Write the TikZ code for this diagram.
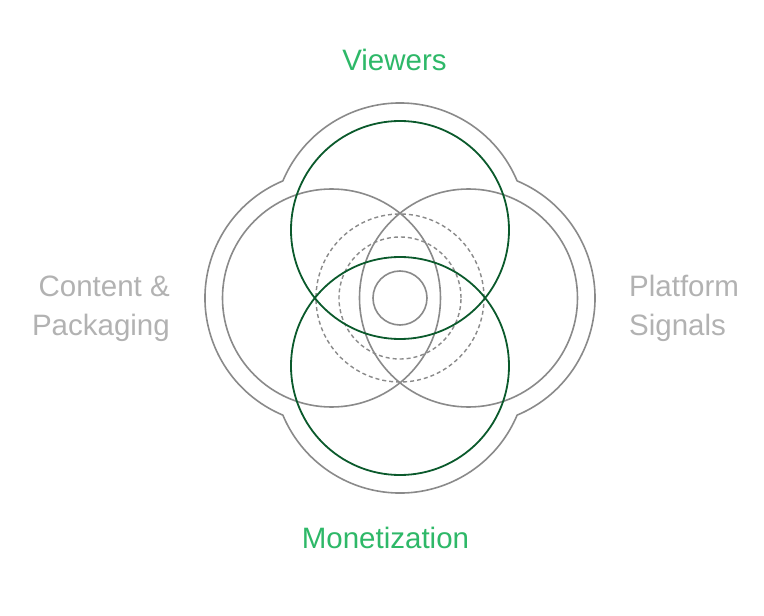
\documentclass[tikz,border=0pt]{standalone}
\usepackage{fontspec}
\setmainfont{Liberation Sans}
\usetikzlibrary{positioning}

\definecolor{ringgray}{HTML}{8A8A8A}
\definecolor{leafgreen}{HTML}{0B5A2C}
\definecolor{textgreen}{HTML}{2EB868}
\definecolor{textgray}{HTML}{B2B2B2}

\begin{document}
\begin{tikzpicture}[
    x=1pt, y=1pt,
    every node/.style={font=\fontsize{29.5}{38.5}\selectfont, inner sep=0pt},
    ring/.style={draw=ringgray, line width=1.6pt},
    keyring/.style={draw=leafgreen, line width=1.8pt},
    guide/.style={draw=ringgray, line width=1.4pt, dash pattern=on 4pt off 3pt},
    hull/.style={draw=ringgray, line width=1.6pt},
    tag/.style={text=textgreen},
    sidetag/.style={text=textgray}
]
\useasboundingbox (-400,-318) rectangle (364,298);

% ============ CENTRES ============
\coordinate (hub) at (0,0);
\coordinate (top) at (0,68);
\coordinate (bottom) at (0,-68);
\coordinate (left) at (-68.5,0);
\coordinate (right) at (68.5,0);

% ============ OUTER HULL ============
\draw[hull] ([shift={(22.75:127)}]top)
    arc[start angle=22.75, delta angle=134.5, radius=127pt]
    arc[start angle=112.75, delta angle=134.5, radius=127pt]
    arc[start angle=202.75, delta angle=134.5, radius=127pt]
    arc[start angle=292.75, delta angle=134.5, radius=127pt] -- cycle;

% ============ SIDE RINGS ============
\draw[ring] (left) circle[radius=109pt];
\draw[ring] (right) circle[radius=109pt];

% Dashed guides and hub
\draw[guide] (hub) circle[radius=84pt];
\draw[guide] (hub) circle[radius=61pt];
\draw[ring] (hub) circle[radius=27pt];

% ============ KEY RINGS ============
\draw[keyring] (top) circle[radius=109pt];
\draw[keyring] (bottom) circle[radius=109pt];

% ============ LABELS ============
\node[tag, anchor=base] (viewers) at (-5.5,227) {Viewers};
\node[tag, anchor=base] (monetization) at (-14.5,-250) {Monetization};
\node[sidetag, align=right, anchor=base east] (content) at (-230,-37.5) {Content \&\\Packaging};
\node[sidetag, align=left, anchor=base west] (platform) at (229,-37.5) {Platform\\Signals};

\end{tikzpicture}
\end{document}
